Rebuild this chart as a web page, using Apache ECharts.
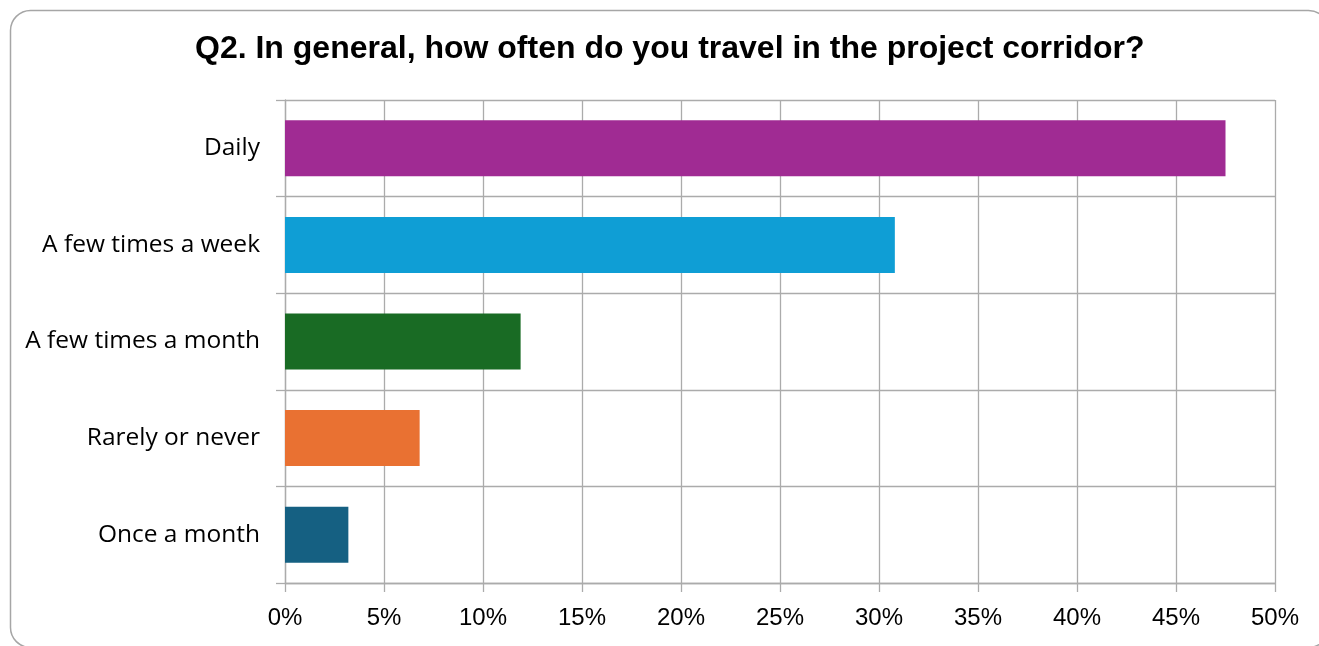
<!DOCTYPE html>
<html>
<head>
<meta charset="utf-8">
<script src="https://cdn.jsdelivr.net/npm/echarts@6/dist/echarts.min.js"></script>
<style>
  html, body { margin: 0; padding: 0; background: #ffffff; }
  #chart { width: 1319px; height: 646px; }
</style>
</head>
<body>
<div id="chart"></div>
<script>
// Survey answers, top to bottom
const categories = ['Daily', 'A few times a week', 'A few times a month', 'Rarely or never', 'Once a month'];
// Share of respondents (%)
const shares = [47.5, 30.8, 11.9, 6.8, 3.2];
// One colour per answer
const barColors = ['#A02B93', '#0F9ED5', '#196B24', '#E97132', '#156082'];
const titleText = 'Q2. In general, how often do you travel in the project corridor?';

const gridColor = '#ababab';

const chart = echarts.init(document.getElementById('chart'), null, { renderer: 'canvas' });

chart.setOption({
  backgroundColor: '#ffffff',
  animation: false,
  graphic: [{
    type: 'rect',
    shape: { x: 10.5, y: 10.5, width: 1318, height: 637, r: 20 },
    style: { fill: 'none', stroke: '#a6a6a6', lineWidth: 1.5 },
    silent: true
  }],
  title: {
    text: titleText,
    left: 190,
    top: 28,
    textStyle: {
      fontFamily: 'Liberation Sans, Arial, sans-serif',
      fontWeight: 'bold',
      fontSize: 32,
      color: '#000000'
    }
  },
  grid: { left: 285, right: 44, top: 100, bottom: 63, containLabel: false },
  xAxis: {
    type: 'value',
    min: 0,
    max: 50,
    interval: 5,
    axisLine: { show: true, lineStyle: { color: gridColor, width: 1.3 } },
    axisTick: { show: true, length: 9, lineStyle: { color: gridColor, width: 1.3 } },
    splitLine: { show: true, lineStyle: { color: gridColor, width: 1.3 } },
    axisLabel: {
      margin: 23,
      formatter: v => v + '%',
      fontFamily: 'Liberation Sans, Arial, sans-serif',
      fontSize: 24,
      color: '#000000'
    }
  },
  yAxis: {
    type: 'category',
    data: categories,
    inverse: true,
    axisLine: { show: true, lineStyle: { color: gridColor, width: 1.3 } },
    axisTick: { show: true, length: 9, lineStyle: { color: gridColor, width: 1.3 } },
    splitLine: { show: true, lineStyle: { color: gridColor, width: 1.3 } },
    axisLabel: {
      margin: 25,
      fontFamily: 'Open Sans, Noto Sans, sans-serif',
      fontSize: 24.5,
      color: '#000000'
    }
  },
  series: [{
    type: 'bar',
    data: shares.map((v, i) => ({ value: v, itemStyle: { color: barColors[i] } })),
    barWidth: '58%'
  }]
});
</script>
</body>
</html>
